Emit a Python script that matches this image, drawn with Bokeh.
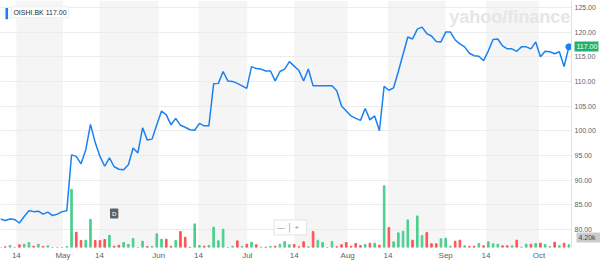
from bokeh.plotting import figure
from bokeh.models import (Range1d, FixedTicker, NumeralTickFormatter, BoxAnnotation,
                          Label, ColumnDataSource, LinearAxis)
from bokeh.embed import file_html
from bokeh.resources import INLINE

symbol = "OISHI.BK"
last_label = "117.00"
volume_label = "4.20k"

close = [82.1, 81.8, 82.1, 82.0, 81.3, 82.6, 83.8, 83.6, 83.7, 83.1,
         83.5, 82.8, 83.1, 83.6, 83.8, 95.1, 94.8, 93.3, 96.1, 101.3,
         97.6, 94.8, 92.8, 94.5, 92.7, 92.2, 92.1, 93.1, 96.5, 95.5,
         100.6, 98.1, 98.3, 101.2, 104.0, 103.2, 101.2, 102.5, 101.1, 100.7,
         100.2, 100.1, 101.5, 101.0, 101.0, 109.5, 109.6, 112.0, 110.1, 110.0,
         109.6, 109.1, 108.6, 113.0, 112.6, 112.5, 112.1, 112.1, 110.1, 112.0,
         112.5, 114.0, 113.1, 112.2, 110.1, 112.5, 109.1, 109.1, 109.1, 109.1,
         109.1, 108.1, 105.0, 104.0, 103.0, 102.5, 102.1, 104.5, 102.2, 103.0,
         100.0, 109.0, 108.2, 108.7, 112.0, 115.5, 119.0, 118.6, 120.6, 121.0,
         119.7, 119.2, 118.1, 118.0, 120.0, 120.0, 118.4, 117.6, 117.0, 115.7,
         115.2, 115.1, 114.2, 116.2, 118.5, 118.6, 117.2, 116.6, 116.6, 116.1,
         117.0, 117.0, 116.6, 118.0, 115.0, 116.1, 116.0, 115.6, 116.0, 113.0,
         117.0]

volume = [0, 1100, 3100, 0, 4200, 5100, 7800, 2000, 5100, 1600,
          2600, 0, 0, 0, 1600, 90700, 23800, 10900, 11400, 44000,
          10900, 10900, 12400, 19100, 2000, 3600, 7800, 4700, 14000, 0,
          9800, 1600, 1600, 21300, 12900, 12900, 2000, 10900, 24900, 16000,
          500, 36900, 3100, 2000, 3100, 31600, 10400, 28500, 0, 2000,
          10400, 1600, 5100, 8200, 4200, 500, 500, 1600, 2000, 5100,
          9300, 4200, 4700, 1100, 8900, 1100, 24900, 11400, 7800, 0,
          9300, 1100, 4200, 7800, 2000, 6200, 3100, 4700, 6700, 6700,
          3600, 96500, 31100, 8900, 22900, 25400, 43100, 11400, 49300, 18700,
          23300, 5800, 5800, 13500, 14500, 2000, 9800, 11400, 2600, 1600,
          2000, 6200, 2600, 8900, 5800, 5100, 2600, 2600, 2600, 11400,
          500, 5100, 5100, 6200, 6700, 4700, 1600, 8200, 2600, 6700,
          4200]

# u = up day (green), d = down day (red)
vol_dir = ["d", "d", "u", "u", "d", "u", "u", "d", "u", "d",
           "u", "u", "u", "u", "u", "u", "d", "d", "u", "u",
           "d", "d", "d", "u", "d", "d", "u", "u", "u", "u",
           "u", "d", "u", "u", "u", "d", "d", "u", "d", "d",
           "d", "u", "u", "d", "u", "u", "u", "u", "u", "u",
           "d", "u", "d", "u", "d", "u", "d", "u", "d", "u",
           "u", "u", "d", "d", "d", "u", "d", "u", "u", "u",
           "u", "d", "d", "d", "d", "d", "d", "u", "d", "u",
           "d", "u", "d", "u", "u", "u", "u", "d", "u", "u",
           "d", "d", "d", "u", "u", "u", "d", "d", "u", "d",
           "d", "u", "d", "u", "u", "u", "d", "d", "u", "d",
           "u", "u", "d", "u", "d", "u", "u", "d", "u", "d",
           "u"]

x_tick_pos = [3.35, 13.2, 20.9, 33.4, 41.8, 52.1, 62.0, 73.3, 81.8, 94.0, 102.5, 113.7]
x_tick_labels = ["14", "May", "14", "Jun", "14", "Jul", "14", "Aug", "14", "Sep", "14", "Oct"]
price_ticks = [80, 85, 90, 95, 100, 105, 110, 115, 120, 125]

idx = list(range(len(close)))
colors = ["#4ccf8e" if d == "u" else "#ff5454" for d in vol_dir]
src = ColumnDataSource(dict(x=idx, close=close, vol=volume, color=colors))

FONT = "Liberation Sans"
LABEL_C = "#5b636a"

p = figure(width=600, height=262, output_backend="svg", toolbar_location=None,
           x_range=Range1d(0, 120.56), y_range=Range1d(76.33, 126.4),
           y_axis_location="right", min_border=0, min_border_left=0,
           min_border_top=0, min_border_bottom=0, min_border_right=0)
p.outline_line_color = None
p.background_fill_color = "white"
p.border_fill_color = "white"

p.extra_y_ranges = {"vol": Range1d(0, 386000)}

# shaded bands from the 14th to the start of the next month
for a, b in zip(x_tick_pos[0::2], x_tick_pos[1::2]):
    p.add_layout(BoxAnnotation(left=a, right=b, fill_color="#f5f5f5", fill_alpha=1.0,
                               line_alpha=0, level="image"))

p.vbar(x="x", top="vol", width=0.34, color="color", source=src, y_range_name="vol")
p.line("x", "close", source=src, line_color="#1a82f0", line_width=1.5)
p.scatter([idx[-1]], [close[-1]], size=6, color="#1a82f0")

# axes
p.yaxis.ticker = FixedTicker(ticks=price_ticks)
p.yaxis.formatter = NumeralTickFormatter(format="0.00")
p.yaxis.axis_line_color = "#dfe1e3"
p.yaxis.major_tick_line_color = None
p.yaxis.minor_tick_line_color = None
p.yaxis.major_tick_out = 0
p.yaxis.major_tick_in = 0
p.yaxis.minor_tick_out = 0
p.yaxis.major_label_text_font = FONT
p.yaxis.major_label_text_font_size = "7px"
p.yaxis.major_label_text_color = LABEL_C
p.yaxis.major_label_standoff = 3

p.xaxis.ticker = FixedTicker(ticks=x_tick_pos)
p.xaxis.major_label_overrides = {t: l for t, l in zip(x_tick_pos, x_tick_labels)}
p.xaxis.axis_line_color = None
p.xaxis.major_tick_line_color = None
p.xaxis.minor_tick_line_color = None
p.xaxis.major_tick_out = 0
p.xaxis.major_tick_in = 0
p.xaxis.minor_tick_out = 0
p.xaxis.major_label_text_font = FONT
p.xaxis.major_label_text_font_size = "8px"
p.xaxis.major_label_text_color = LABEL_C
p.xaxis.major_label_standoff = 3

p.xgrid.grid_line_color = None
p.ygrid.ticker = FixedTicker(ticks=price_ticks)
p.ygrid.grid_line_color = "#ececec"
p.ygrid.grid_line_width = 1


def badge_axis(value, text, bg, fg):
    """A zero-width right axis whose single inward tick forms a badge."""
    ax = LinearAxis(ticker=FixedTicker(ticks=[value]),
                    major_label_overrides={value: text},
                    axis_line_color=None, minor_tick_line_color=None,
                    major_tick_in=24, major_tick_out=0, minor_tick_in=0, minor_tick_out=0,
                    major_tick_line_color=bg, major_tick_line_width=10,
                    major_label_standoff=-22, major_label_text_font=FONT,
                    major_label_text_font_size="7px", major_label_text_color=fg)
    p.add_layout(ax, "right")


badge_axis(close[-1], last_label, "#1fb26a", "white")
badge_axis(78.4, volume_label, "#c9cdd2", "#3f464d")

# watermark
p.add_layout(Label(x=120.3, y=125.0, text="yahoo/finance", text_font=FONT,
                   text_font_style="bold", text_font_size="18px", text_color="#e6e6e6",
                   text_align="right", text_baseline="top", level="underlay"))

# symbol legend
p.add_layout(Label(x=2.3, y=124.0, text=f"{symbol} {last_label}", text_font=FONT,
                   text_font_size="7px", text_color="#26292c", text_align="left",
                   text_baseline="middle", background_fill_color="white",
                   border_line_color="#eeeeee", padding=2))
p.add_layout(BoxAnnotation(left=1.05, right=1.6, top=124.9, bottom=122.6,
                           fill_color="#1a82f0", fill_alpha=1.0, line_alpha=0))

# dividend marker
p.add_layout(Label(x=24.0, y=83.2, text="D", text_font=FONT, text_font_size="6px",
                   text_color="white", text_align="center", text_baseline="middle",
                   background_fill_color="#5b636a", padding=2, border_radius=1))
# zoom control
p.add_layout(Label(x=61.2, y=80.4, text="\u2014  \u2502  +", text_font=FONT,
                   text_font_size="8px", text_color="#8a9096", text_align="center",
                   text_baseline="middle", background_fill_color="white",
                   border_line_color="#e2e2e2", padding=3))

open("out.html", "w").write(file_html(p, INLINE))
